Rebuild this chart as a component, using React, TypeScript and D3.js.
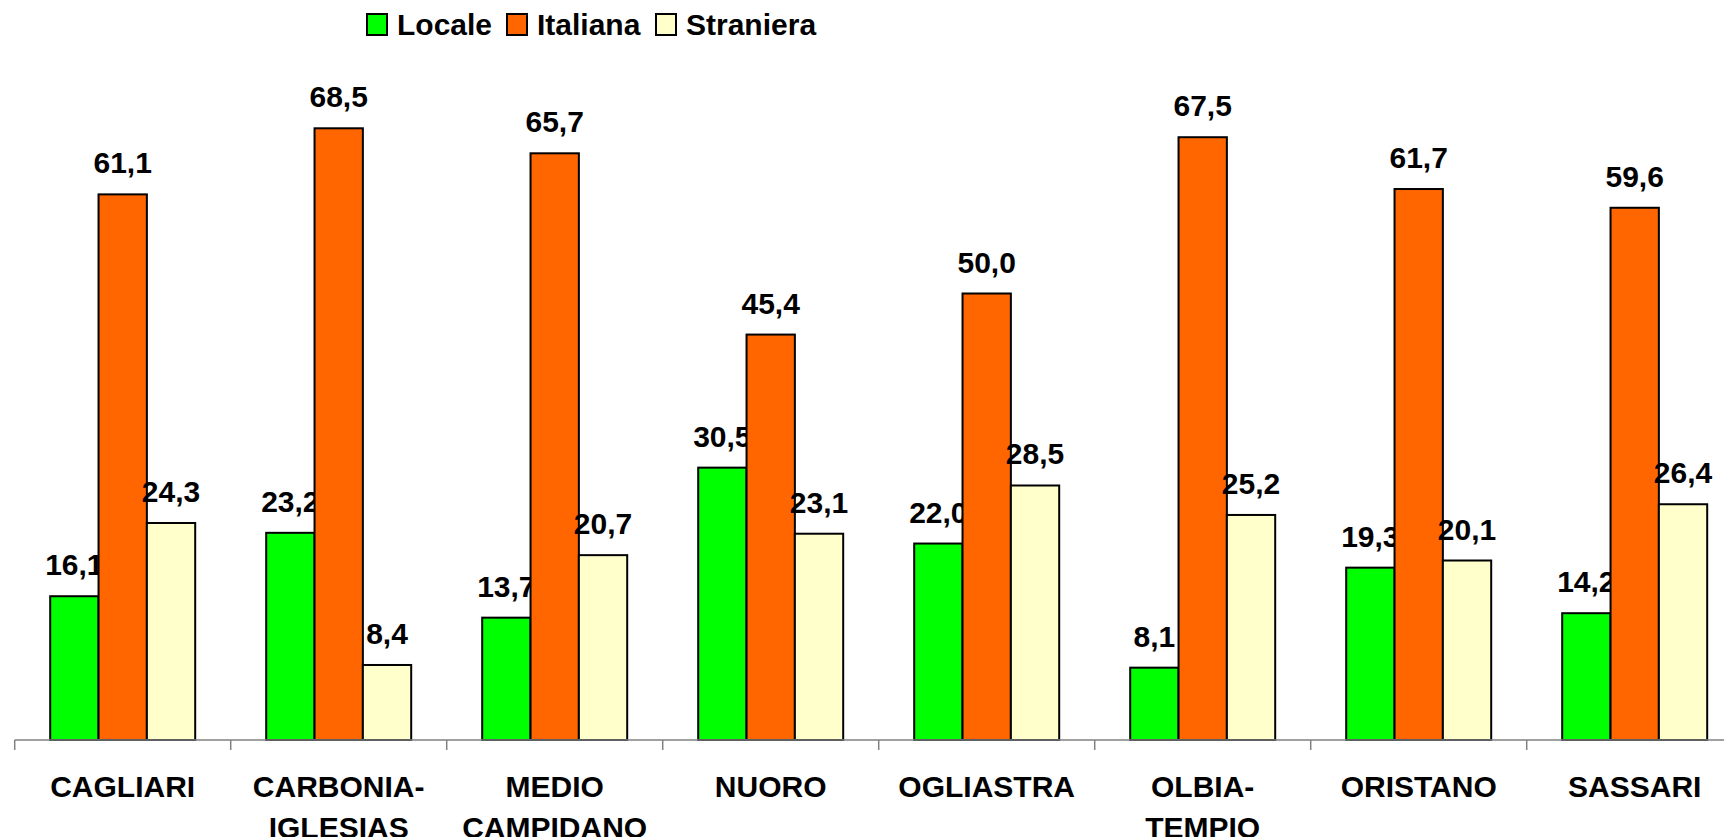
import React from "react";
import * as d3 from "d3";

const categories: string[][] = [
  ["CAGLIARI"],
  ["CARBONIA-", "IGLESIAS"],
  ["MEDIO", "CAMPIDANO"],
  ["NUORO"],
  ["OGLIASTRA"],
  ["OLBIA-", "TEMPIO"],
  ["ORISTANO"],
  ["SASSARI"],
];
const seriesNames = ["Locale", "Italiana", "Straniera"];
const seriesColors = ["#00FF00", "#FF6600", "#FFFFCC"];
const locale = [16.1, 23.2, 13.7, 30.5, 22.0, 8.1, 19.3, 14.2];
const italiana = [61.1, 68.5, 65.7, 45.4, 50.0, 67.5, 61.7, 59.6];
const straniera = [24.3, 8.4, 20.7, 23.1, 28.5, 25.2, 20.1, 26.4];

const W = 1724;
const H = 837;
const baseY = 740;
const font = "'Liberation Sans', Arial, sans-serif";

export default function App() {
  const series = [locale, italiana, straniera];
  const keys = categories.map((c) => c.join(" "));
  const x = d3.scaleBand<string>().domain(keys).range([14.7, 14.7 + 8 * 216]).padding(0);
  const inner = d3
    .scaleBand<string>()
    .domain(seriesNames)
    .range([35.5, x.bandwidth() - 35.5])
    .padding(0);
  const y = d3.scaleLinear().domain([0, 80]).range([baseY, baseY - 80 * 8.93]);
  const fmt = (v: number) => d3.format(".1f")(v).replace(".", ",");

  const legendX = [367, 507, 656];

  return (
    <svg
      width={W}
      height={H}
      style={{ position: "absolute", left: 0, top: 0, background: "#fff" }}
      fontFamily={font}
      fontWeight="bold"
    >
      <rect x={0} y={0} width={W} height={H} fill="#fff" />
      {/* legend */}
      {seriesNames.map((n, i) => (
        <g key={n}>
          <rect x={legendX[i]} y={14} width={20} height={21} fill={seriesColors[i]} stroke="#000" strokeWidth={2} />
          <text x={legendX[i] + 30} y={35} fontSize={30} fill="#000">
            {n}
          </text>
        </g>
      ))}
      {/* bars */}
      {keys.map((k, ci) => (
        <g key={k} transform={`translate(${x(k)},0)`}>
          {series.map((s, si) => {
            const v = s[ci];
            const bx = inner(seriesNames[si])!;
            const bw = inner.bandwidth();
            return (
              <g key={si}>
                <rect
                  x={bx}
                  y={y(v)}
                  width={bw}
                  height={baseY - y(v)}
                  fill={seriesColors[si]}
                  stroke="#000"
                  strokeWidth={2}
                />
                <text x={bx + bw / 2} y={y(v) - 21} fontSize={30} textAnchor="middle" fill="#000">
                  {fmt(v)}
                </text>
              </g>
            );
          })}
        </g>
      ))}
      {/* axis */}
      <line x1={14.7} x2={W} y1={baseY} y2={baseY} stroke="#808080" strokeWidth={1.5} />
      {d3.range(0, keys.length + 1).map((i) => {
        const tx = 14.7 + i * x.bandwidth();
        return <line key={i} x1={tx} x2={tx} y1={baseY} y2={baseY + 10} stroke="#808080" strokeWidth={1.5} />;
      })}
      {categories.map((lines, ci) => (
        <text key={ci} x={x(keys[ci])! + x.bandwidth() / 2} y={796.5} fontSize={30} textAnchor="middle" fill="#000">
          {lines.map((l, li) => (
            <tspan key={li} x={x(keys[ci])! + x.bandwidth() / 2} dy={li === 0 ? 0 : 41}>
              {l}
            </tspan>
          ))}
        </text>
      ))}
    </svg>
  );
}
